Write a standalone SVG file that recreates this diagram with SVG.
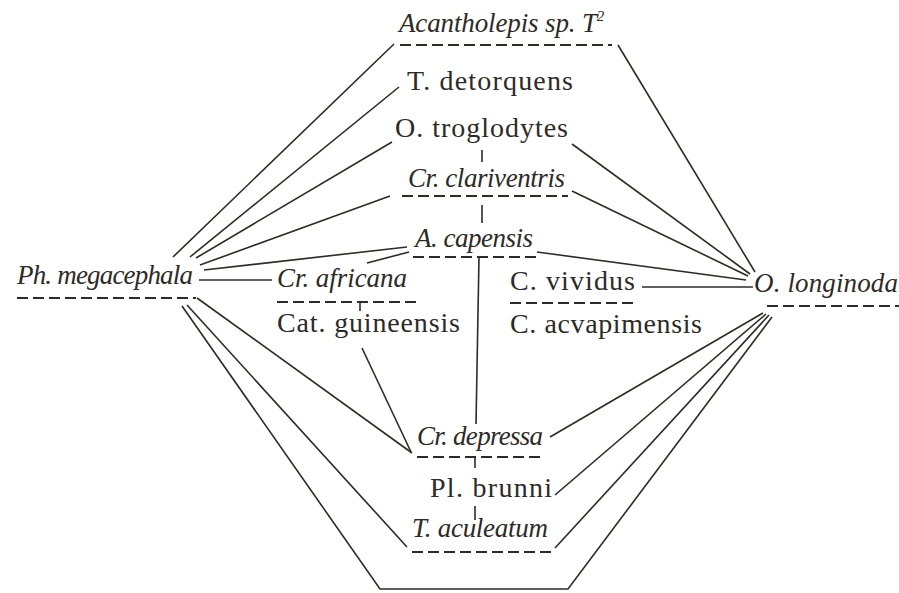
<svg xmlns="http://www.w3.org/2000/svg" width="899" height="593" viewBox="0 0 899 593">
<style>
text{fill:#2e2a28;font-size:28px}
.i{font-style:italic;font-size:27px}
.d{stroke:#2e2a28;stroke-width:1.8;stroke-dasharray:11 5;fill:none}
.c line,.c polyline{stroke:#2e2a28;stroke-width:1.6;fill:none}
</style>
<rect width="899" height="593" fill="#fff"/>
<g class="c" id="connectors">
<line x1="173" y1="257" x2="394" y2="44"/>
<line x1="190" y1="257" x2="399" y2="87"/>
<line x1="196" y1="258" x2="392" y2="142"/>
<line x1="200" y1="265" x2="390" y2="196"/>
<line x1="204" y1="270" x2="407" y2="247"/>
<line x1="199" y1="280" x2="272" y2="280"/>
<line x1="367" y1="263" x2="409" y2="252"/>
<line x1="197" y1="298" x2="412" y2="453"/>
<line x1="187" y1="305" x2="407" y2="547"/>
<polyline points="182,306 380,589 568,589 772,317"/>
<line x1="618" y1="45" x2="755" y2="272"/>
<line x1="572" y1="144" x2="750" y2="274"/>
<line x1="572" y1="191" x2="748" y2="276"/>
<line x1="537" y1="252" x2="746" y2="280"/>
<line x1="642" y1="287" x2="753" y2="287"/>
<line x1="550" y1="437" x2="763" y2="313"/>
<line x1="555" y1="495" x2="766" y2="314"/>
<line x1="555" y1="548" x2="769" y2="315"/>
<line x1="362" y1="348" x2="411" y2="452"/>
<line x1="360" y1="302" x2="360" y2="311"/>
<line x1="482" y1="150" x2="482" y2="162"/>
<line x1="482" y1="205" x2="482" y2="223"/>
<line x1="479" y1="257" x2="476" y2="424"/>
<line x1="475" y1="456" x2="475" y2="468"/>
<line x1="475" y1="506" x2="475" y2="520"/>
</g>
<g id="nodes" font-family="Liberation Serif, Times New Roman, serif">
<g id="acantholepis">
<text class="i" x="399" y="32"><tspan textLength="198" lengthAdjust="spacing">Acantholepis sp. T</tspan><tspan font-size="15" dy="-11">2</tspan></text>
<line class="d" x1="400" y1="45" x2="612" y2="45"/>
</g>
<g id="t-detorquens"><text x="407" y="90" textLength="166" lengthAdjust="spacing">T. detorquens</text></g>
<g id="o-troglodytes"><text x="395" y="137" textLength="173" lengthAdjust="spacing">O. troglodytes</text></g>
<g id="cr-clariventris">
<text class="i" x="408" y="187" textLength="157" lengthAdjust="spacing">Cr. clariventris</text>
<line class="d" x1="402" y1="196" x2="568" y2="196"/>
</g>
<g id="a-capensis">
<text class="i" x="415" y="247" textLength="118" lengthAdjust="spacing">A. capensis</text>
<line class="d" x1="413" y1="257" x2="536" y2="257"/>
</g>
<g id="ph-megacephala">
<text class="i" x="17" y="284" textLength="176" lengthAdjust="spacing">Ph. megacephala</text>
<line class="d" x1="17" y1="298" x2="196" y2="298"/>
</g>
<g id="cr-africana">
<text class="i" x="277" y="287" textLength="130" lengthAdjust="spacing">Cr. africana</text>
<line class="d" x1="277" y1="302" x2="416" y2="302"/>
</g>
<g id="cat-guineensis"><text x="277" y="332" textLength="183" lengthAdjust="spacing">Cat. guineensis</text></g>
<g id="c-vividus">
<text x="510" y="290" textLength="125" lengthAdjust="spacing">C. vividus</text>
<line class="d" x1="510" y1="303" x2="638" y2="303"/>
</g>
<g id="c-acvapimensis"><text x="510" y="333" textLength="192" lengthAdjust="spacing">C. acvapimensis</text></g>
<g id="o-longinoda">
<text class="i" x="754" y="292" textLength="144" lengthAdjust="spacing">O. longinoda</text>
<line class="d" x1="767" y1="306" x2="899" y2="306"/>
</g>
<g id="cr-depressa">
<text class="i" x="417" y="445" textLength="126" lengthAdjust="spacing">Cr. depressa</text>
<line class="d" x1="417" y1="457" x2="543" y2="457"/>
</g>
<g id="pl-brunni"><text x="430" y="497" textLength="122" lengthAdjust="spacing">Pl. brunni</text></g>
<g id="t-aculeatum">
<text class="i" x="412" y="537" textLength="136" lengthAdjust="spacing">T. aculeatum</text>
<line class="d" x1="412" y1="552" x2="552" y2="552"/>
</g>
</g>
</svg>
